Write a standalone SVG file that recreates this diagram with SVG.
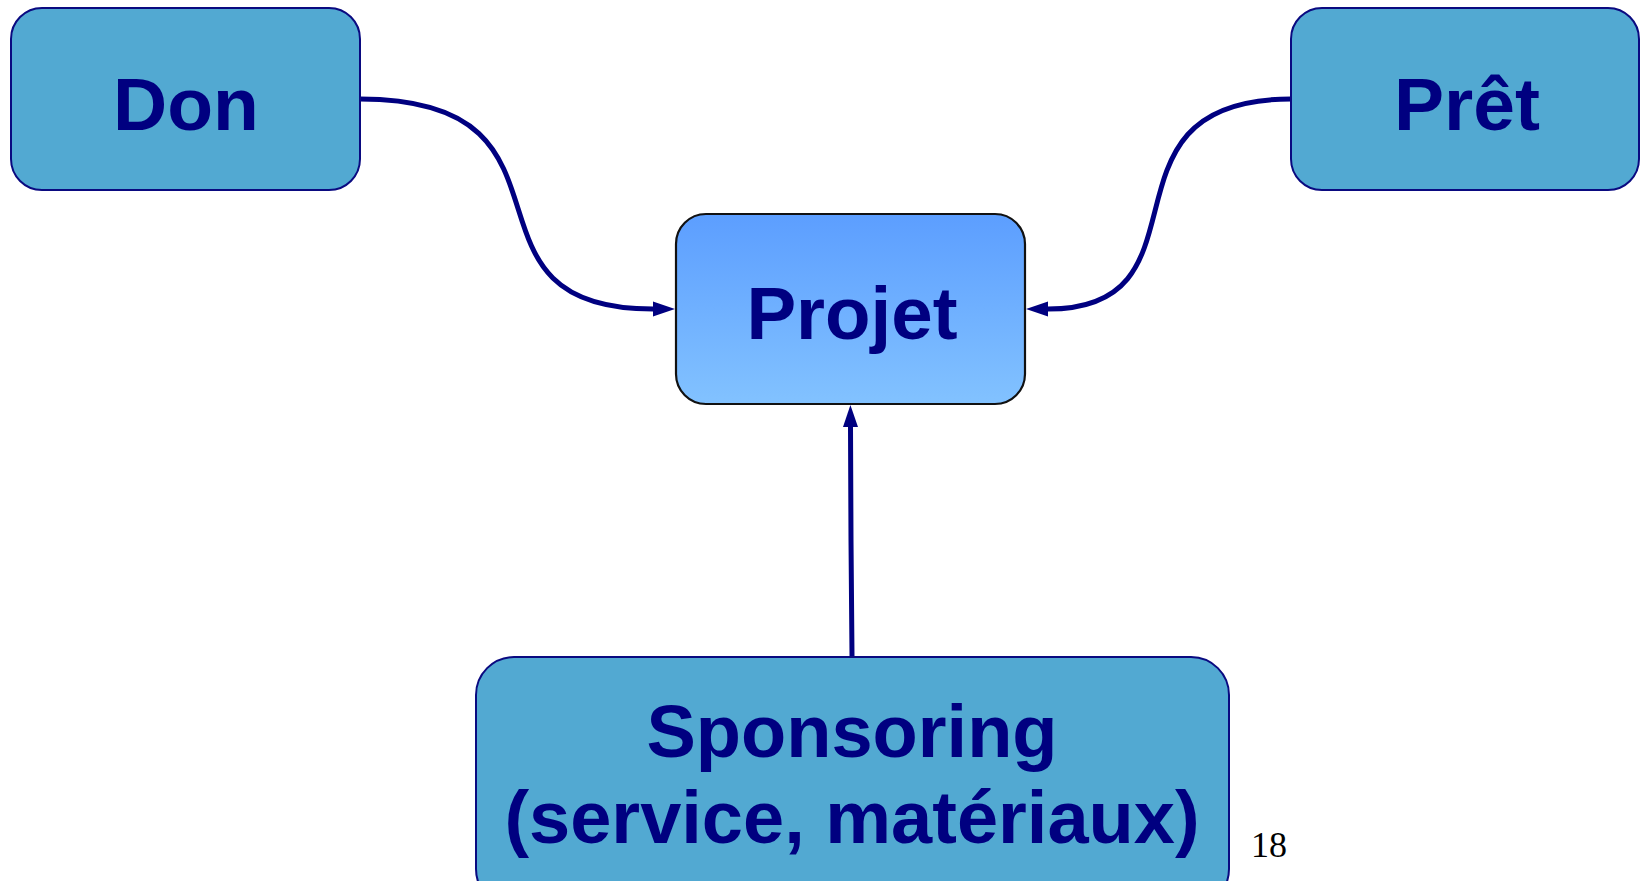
<svg xmlns="http://www.w3.org/2000/svg" width="1642" height="881" viewBox="0 0 1642 881">
<style>
.box{fill:#52A9D2;stroke:#0A0A80;stroke-width:2}
.proj{fill:url(#pg);stroke:#111;stroke-width:2.2}
.lbl{font-family:"Liberation Sans",Arial,sans-serif;font-weight:bold;fill:#000080;text-anchor:middle}
.conn{fill:none;stroke:#000080;stroke-width:5}
.pg{font-family:"Liberation Serif","Times New Roman",serif;font-size:36px;fill:#000}
</style>
<defs>
<linearGradient id="pg" x1="0" y1="0" x2="0" y2="1">
<stop offset="0" stop-color="#5C9EFF"/>
<stop offset="1" stop-color="#82C2FF"/>
</linearGradient>
<marker id="arr" markerUnits="userSpaceOnUse" markerWidth="22" markerHeight="16" refX="0" refY="7.5" orient="auto" viewBox="0 0 22 15">
<path d="M0,0 L22,7.5 L0,15 z" fill="#000080"/>
</marker>
</defs>
<g id="connectors">
<path class="conn" d="M360,99 C600,99 440,309 653,309" marker-end="url(#arr)"/>
<path class="conn" d="M1291,99 C1085,99 1220,309 1048,309" marker-end="url(#arr)"/>
<path class="conn" d="M852,656 L851,540 L850.5,427" marker-end="url(#arr)"/>
</g>
<g id="don">
<rect class="box" x="11" y="8" width="349" height="182" rx="31" ry="31"/>
<text class="lbl" x="186" y="130" font-size="75">Don</text>
</g>
<g id="pret">
<rect class="box" x="1291" y="8" width="348" height="182" rx="31" ry="31"/>
<text class="lbl" x="1467" y="130" font-size="75">Prêt</text>
</g>
<g id="projet">
<rect class="proj" x="676" y="214" width="349" height="190" rx="30" ry="30"/>
<text class="lbl" x="852" y="339" font-size="74.5">Projet</text>
</g>
<g id="sponsoring">
<rect class="box" x="476" y="657" width="753" height="250" rx="38" ry="38"/>
<text class="lbl" x="852" y="757" font-size="74">Sponsoring</text>
<text class="lbl" x="852" y="843" font-size="74">(service, matériaux)</text>
</g>
<text class="pg" x="1251" y="857">18</text>
</svg>
